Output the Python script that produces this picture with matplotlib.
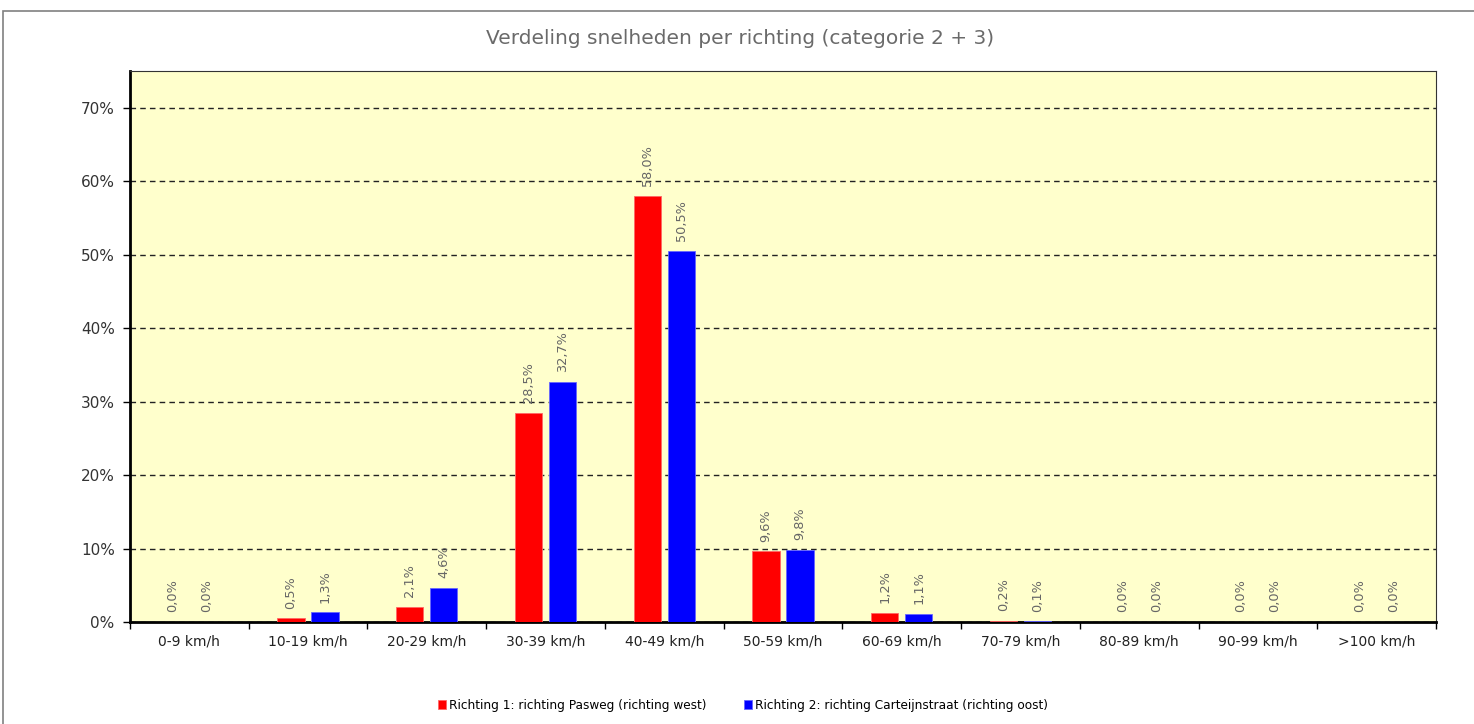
import numpy as np
from matplotlib import pyplot as plt
from matplotlib import font_manager
from matplotlib.patches import Rectangle
from matplotlib.ticker import FixedLocator, NullFormatter

categories = ['0-9 km/h', '10-19 km/h', '20-29 km/h', '30-39 km/h', '40-49 km/h', '50-59 km/h',
              '60-69 km/h', '70-79 km/h', '80-89 km/h', '90-99 km/h', '>100 km/h']
west = [0.0, 0.5, 2.1, 28.5, 58.0, 9.6, 1.2, 0.2, 0.0, 0.0, 0.0]
oost = [0.0, 1.3, 4.6, 32.7, 50.5, 9.8, 1.1, 0.1, 0.0, 0.0, 0.0]
legend_west = 'Richting 1: richting Pasweg (richting west)'
legend_oost = 'Richting 2: richting Carteijnstraat (richting oost)'
title = 'Verdeling snelheden per richting (categorie 2 + 3)'


def pickNarrowFont():
  # look for a condensed family, otherwise plain Liberation Sans
  for fam, stretch in [('Liberation Sans Narrow', 'normal'), ('DejaVu Sans', 'condensed'),
                       ('Roboto Condensed', 'normal'), ('Open Sans Condensed', 'normal'),
                       ('Noto Sans', 'condensed'), ('Roboto', 'condensed')]:
    try:
      f = font_manager.findfont(font_manager.FontProperties(family=fam, stretch=stretch), fallback_to_default=False)
    except Exception:
      continue
    if stretch == 'normal' or 'ondensed' in f or 'arrow' in f:
      return font_manager.FontProperties(fname=f, size=9.7)
  return font_manager.FontProperties(family='Liberation Sans', size=7.9)


W, H = 1474, 724
fig = plt.figure(figsize=(W/100, H/100), dpi=100)
fig.patches.append(Rectangle((3/W, -0.1), 1.2, 1 - 11/H + 0.1, transform=fig.transFigure,
                             fill=False, edgecolor='#808080', linewidth=1.2))

ax = fig.add_axes([130/W, 1 - 622/H, (1436-130)/W, (622-71)/H])
ax.set_facecolor('#ffffcc')

x = np.arange(len(categories))
bw = 0.23
off = 0.143
b1 = ax.bar(x - off, west, bw, color='#ff0000', edgecolor='#ff6666', linewidth=0.6, label=legend_west, zorder=3)
b2 = ax.bar(x + off, oost, bw, color='#0000ff', edgecolor='#6666ff', linewidth=0.6, label=legend_oost, zorder=3)

for bars, vals in ((b1, west), (b2, oost)):
  for b, v in zip(bars, vals):
    ax.annotate(('%.1f%%' % v).replace('.', ','), (b.get_x() + b.get_width()/2, v),
                xytext=(0, 7), textcoords='offset points', rotation=90,
                ha='center', va='bottom', fontsize=9.3, color='#666666', zorder=4)

ax.set_xlim(-0.5, len(categories) - 0.5)
ax.set_ylim(0, 75)
ax.set_yticks(np.arange(0, 71, 10))
ax.set_yticklabels(['%d%%' % v for v in range(0, 71, 10)], fontsize=11, color='#333333')
ax.yaxis.grid(True, linestyle=(0, (4, 3)), color='#222222', linewidth=1.0, zorder=1)

ax.set_xticks(x)
ax.set_xticklabels(categories, fontsize=10, color='#222222')
ax.tick_params(axis='x', which='major', length=0, pad=9)
ax.xaxis.set_minor_locator(FixedLocator(np.arange(-0.5, len(categories), 1)))
ax.xaxis.set_minor_formatter(NullFormatter())
ax.tick_params(axis='x', which='minor', length=5, width=1, color='#000000')
ax.tick_params(axis='y', length=5, width=1, color='#000000', pad=6)

ax.spines['left'].set_linewidth(2)
ax.spines['bottom'].set_linewidth(2)
ax.spines['top'].set_color('#333333')
ax.spines['right'].set_color('#333333')

fig.text(740/W, 1 - 38/H, title, ha='center', va='center', fontsize=14.5, color='#6a6a6a')

legFont = pickNarrowFont()
fig.legend(handles=[b1, b2], loc='center', bbox_to_anchor=(743/W, 1 - 706/H), ncol=2, frameon=False,
           prop=legFont, handlelength=0.6, handleheight=0.6, handletextpad=0.2, columnspacing=2.8)

fig.savefig('out.png', dpi=100)
